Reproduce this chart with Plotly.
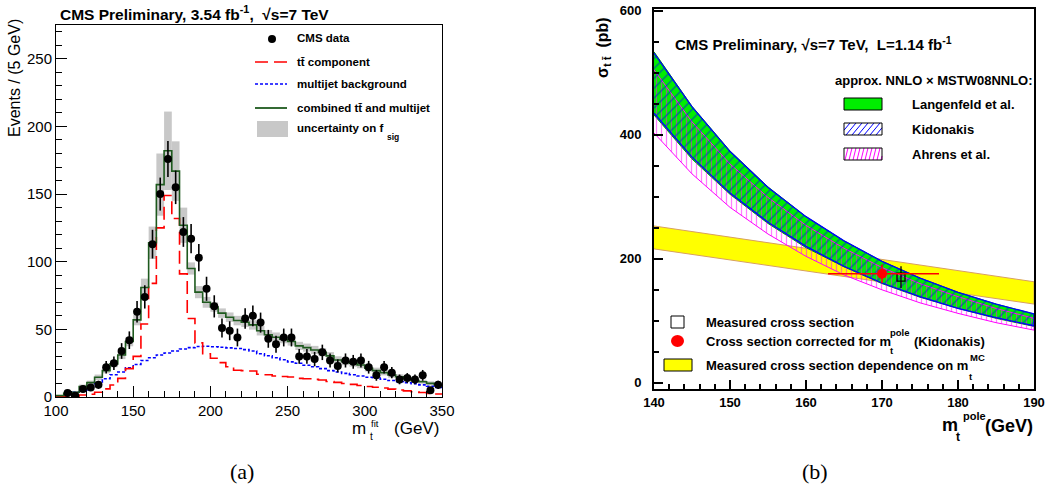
import plotly.graph_objects as go

W, H = 1046, 495
FONT = "Liberation Sans, Arial, Helvetica, sans-serif"


def X(px):
    return px / W


def Y(py):
    return 1 - py / H


# ---------------- Panel (a): m_t^fit distribution ----------------
bin_centers = [102.5, 107.5, 112.5, 117.5, 122.5, 127.5, 132.5, 137.5, 142.5, 147.5,
               152.5, 157.5, 162.5, 167.5, 172.5, 177.5, 182.5, 187.5, 192.5, 197.5,
               202.5, 207.5, 212.5, 217.5, 222.5, 227.5, 232.5, 237.5, 242.5, 247.5,
               252.5, 257.5, 262.5, 267.5, 272.5, 277.5, 282.5, 287.5, 292.5, 297.5,
               302.5, 307.5, 312.5, 317.5, 322.5, 327.5, 332.5, 337.5, 342.5, 347.5]
bin_width = 5

data_counts = [None, 3, 1, 6, 7, 9, 22, 25, 34, 42,
               63, 74, 113, 150, 176, 155, 122, 117, 103, 80,
               67, 51, 49, 44, 58, 60, 55, 43, 39, 44,
               44, 30, 30, 28, 33, 27, 23, 27, 26, 27,
               22, 16, 22, 18, 13, 14, 13, 16, 5, 9]
data_errors = [None, 1.7, 1.0, 2.4, 2.6, 3.0, 4.7, 5.0, 5.8, 6.5,
               7.9, 8.6, 10.6, 12.2, 13.3, 12.4, 11.0, 10.8, 10.1, 8.9,
               8.2, 7.1, 7.0, 6.6, 7.6, 7.7, 7.4, 6.6, 6.2, 6.6,
               6.6, 5.5, 5.5, 5.3, 5.7, 5.2, 4.8, 5.2, 5.1, 5.2,
               4.7, 4.0, 4.7, 4.2, 3.6, 3.7, 3.6, 4.0, 2.2, 3.0]

ttbar_component = [0.2, 0.4, 0.8, 1.5, 2.0, 3.5, 6.0, 8.9, 13.8, 21.0,
                   30.0, 54.0, 84.0, 125.0, 149.0, 132.0, 91.0, 58.0, 40.0, 32.0,
                   28.6, 25.4, 22.4, 19.8, 19.5, 19.2, 16.8, 16.5, 15.5, 15.2,
                   14.8, 13.8, 13.5, 13.0, 12.6, 11.5, 10.8, 10.0, 9.3, 8.5,
                   7.8, 7.2, 6.6, 5.8, 5.2, 4.5, 3.9, 3.3, 2.7, 2.2]

multijet_bkg = [0.8, 2.0, 3.5, 5.0, 8.0, 11.0, 13.5, 16.5, 18.5, 21.5,
                24.0, 27.0, 29.0, 31.0, 32.5, 34.0, 35.5, 36.5, 37.3, 37.5,
                37.2, 36.8, 36.3, 35.8, 35.0, 34.0, 32.0, 30.5, 29.0, 27.5,
                26.0, 25.0, 23.5, 22.4, 21.0, 19.5, 18.5, 17.5, 16.5, 15.5,
                14.6, 14.0, 13.1, 12.2, 11.3, 10.5, 9.8, 9.0, 8.0, 7.0]

combined = [1.0, 2.7, 3.5, 7.7, 10.6, 14.6, 19.5, 24.5, 31.0, 41.0,
            57.0, 81.0, 114.0, 157.0, 182.0, 167.0, 127.0, 95.0, 77.5, 70.0,
            66.5, 62.0, 59.0, 56.5, 55.3, 53.3, 49.0, 46.0, 44.2, 42.7,
            41.0, 37.8, 36.5, 34.8, 33.1, 30.4, 27.4, 26.1, 24.9, 23.7,
            21.2, 19.5, 18.0, 16.3, 15.0, 13.8, 12.1, 11.3, 10.1, 8.9]

fsig_unc = [0.5, 1.0, 1.0, 1.5, 1.5, 2.0, 2.0, 2.5, 3.0, 3.5,
            4.0, 6.5, 12.0, 23.0, 29.0, 22.0, 13.0, 4.5, 4.5, 4.0,
            3.5, 3.5, 3.5, 3.5, 3.5, 3.5, 3.5, 3.5, 3.5, 3.0,
            3.0, 3.0, 3.0, 3.0, 3.0, 2.8, 2.7, 2.6, 2.5, 2.5,
            2.3, 2.2, 2.0, 2.0, 1.8, 1.7, 1.6, 1.5, 1.5, 1.4]

# ---------------- Panel (b): cross section vs m_t^pole ----------------
mass_pole = [140, 145, 150, 155, 160, 165, 170, 175, 180, 185, 190]
langenfeld_hi = [534, 446, 374, 316, 268, 229, 196, 169, 146, 127, 111]
langenfeld_lo = [432, 361, 304, 257, 218, 187, 160, 138, 120, 104, 91]
kidonakis_hi = [532, 445, 373, 315, 268, 229, 196, 169, 146, 127, 111]
kidonakis_lo = [435, 364, 306, 259, 220, 188, 161, 139, 120, 105, 92]
ahrens_hi = [505, 421, 353, 299, 254, 217, 186, 160, 139, 120, 104]
ahrens_lo = [403, 337, 283, 240, 204, 174, 150, 129, 112, 97, 85]

mass_mc = [140, 165, 190]
meas_dep_hi = [253, 208, 163]
meas_dep_lo = [216, 171, 127]

meas_mass = [172.5]
meas_xsec = [170.5]
meas_err = [17.5]

corr_mass = [170.0]
corr_mass_err_plus = [7.5]
corr_mass_err_minus = [7.1]
corr_xsec = [176.0]
corr_xsec_err = [15.0]

fig = go.Figure()

# ---- panel (a) traces
edges = [c - bin_width / 2 for c in bin_centers] + [bin_centers[-1] + bin_width / 2]


def step_y(vals):
    return list(vals) + [vals[-1]]


fig.add_trace(go.Bar(
    x=bin_centers,
    y=[2 * u for u in fsig_unc],
    base=[c - u for c, u in zip(combined, fsig_unc)],
    width=bin_width,
    marker=dict(color="#c8c8c8", line=dict(width=0)),
    xaxis="x", yaxis="y", showlegend=False, hoverinfo="skip"))

fig.add_trace(go.Scatter(
    x=edges, y=step_y(multijet_bkg), mode="lines", line_shape="hv",
    line=dict(color="#0000ff", width=1.6, dash="3px,2px"),
    xaxis="x", yaxis="y", showlegend=False))

fig.add_trace(go.Scatter(
    x=edges, y=step_y(ttbar_component), mode="lines", line_shape="hv",
    line=dict(color="#ff0000", width=1.6, dash="13px,6px"),
    xaxis="x", yaxis="y", showlegend=False))

fig.add_trace(go.Scatter(
    x=edges, y=step_y(combined), mode="lines", line_shape="hv",
    line=dict(color="#1e5a1e", width=1.6),
    xaxis="x", yaxis="y", showlegend=False))

fig.add_trace(go.Scatter(
    x=bin_centers, y=data_counts, mode="markers",
    marker=dict(color="black", size=8, symbol="circle"),
    error_y=dict(type="data", array=data_errors, color="black", thickness=1.6, width=0),
    xaxis="x", yaxis="y", showlegend=False))

# ---- panel (b) traces
fig.add_trace(go.Scatter(
    x=mass_mc + mass_mc[::-1], y=meas_dep_hi + meas_dep_lo[::-1],
    fill="toself", fillcolor="#ffff00", mode="lines",
    line=dict(color="#d8a060", width=1),
    xaxis="x2", yaxis="y2", showlegend=False))

fig.add_trace(go.Scatter(
    x=mass_pole + mass_pole[::-1], y=langenfeld_hi + langenfeld_lo[::-1],
    fill="toself", fillcolor="#00ee00", mode="lines",
    line=dict(color="#009900", width=1),
    xaxis="x2", yaxis="y2", showlegend=False))

fig.add_trace(go.Scatter(
    x=mass_pole + mass_pole[::-1], y=ahrens_hi + ahrens_lo[::-1],
    fill="toself", fillcolor="rgba(0,0,0,0)", mode="lines",
    fillpattern=dict(shape="|", fgcolor="#ff00ff", bgcolor="rgba(0,0,0,0)",
                     size=5, solidity=0.25),
    line=dict(color="#ff00ff", width=1),
    xaxis="x2", yaxis="y2", showlegend=False))

fig.add_trace(go.Scatter(
    x=mass_pole + mass_pole[::-1], y=kidonakis_hi + kidonakis_lo[::-1],
    fill="toself", fillcolor="rgba(0,0,0,0)", mode="lines",
    fillpattern=dict(shape="/", fgcolor="#0000ff", bgcolor="rgba(0,0,0,0)",
                     size=7, solidity=0.22),
    line=dict(color="#0000ff", width=1.3),
    xaxis="x2", yaxis="y2", showlegend=False))

fig.add_trace(go.Scatter(
    x=meas_mass, y=meas_xsec, mode="markers",
    marker=dict(symbol="square-open", size=8, color="black", line=dict(width=1.3)),
    error_y=dict(type="data", array=meas_err, color="black", thickness=1.3, width=0),
    xaxis="x2", yaxis="y2", showlegend=False))

fig.add_trace(go.Scatter(
    x=corr_mass, y=corr_xsec, mode="markers",
    marker=dict(symbol="circle", size=10, color="#ff0000"),
    error_x=dict(type="data", symmetric=False, array=corr_mass_err_plus,
                 arrayminus=corr_mass_err_minus, color="#ff0000", thickness=1.5, width=0),
    error_y=dict(type="data", array=corr_xsec_err, color="#ff0000", thickness=1.5, width=0),
    xaxis="x2", yaxis="y2", showlegend=False))

# ---- axes
axis_common = dict(showgrid=False, zeroline=False, showline=True, linecolor="black",
                   mirror=True, ticks="inside", tickcolor="black", automargin=False)

fig.update_layout(
    width=W, height=H, margin=dict(l=0, r=0, t=0, b=0, pad=0, autoexpand=False),
    paper_bgcolor="white", plot_bgcolor="white", showlegend=False,
    barmode="overlay",
    xaxis=dict(domain=[X(56), X(442)], range=[100, 350], tick0=100, dtick=50,
               ticklen=11, tickwidth=1, linewidth=1,
               minor=dict(ticks="inside", ticklen=6, tick0=100, dtick=10, tickcolor="black"),
               tickfont=dict(family=FONT, size=15, color="black"),
               anchor="y", **axis_common),
    yaxis=dict(domain=[Y(397), Y(25)], range=[0, 275], tick0=0, dtick=50,
               ticklen=11, tickwidth=1, linewidth=1,
               minor=dict(ticks="inside", ticklen=6, tick0=0, dtick=10, tickcolor="black"),
               tickfont=dict(family=FONT, size=15, color="black"),
               anchor="x", **axis_common),
    xaxis2=dict(domain=[X(654), X(1034)], range=[140, 190], tick0=140, dtick=10,
                ticklen=9, tickwidth=1.5, linewidth=2,
                minor=dict(ticks="inside", ticklen=5, tick0=140, dtick=2, tickcolor="black"),
                tickfont=dict(family=FONT, size=13, color="black", weight="bold"),
                anchor="y2", **axis_common),
    yaxis2=dict(domain=[Y(389), Y(9)], range=[-10, 603], tick0=0, dtick=200,
                ticklen=9, tickwidth=1.5, linewidth=2,
                minor=dict(ticks="inside", ticklen=5, tick0=0, dtick=50, tickcolor="black"),
                tickfont=dict(family=FONT, size=13, color="black", weight="bold"),
                ticklabelstandoff=8,
                anchor="x2", **axis_common),
)

annotations = []
shapes = []


def text(px, py, s, size, bold=False, xanchor="left", angle=0, family=FONT):
    annotations.append(dict(
        x=X(px), y=Y(py), xref="paper", yref="paper", text=s, showarrow=False,
        xanchor=xanchor, yanchor="middle", textangle=angle,
        font=dict(family=family, size=size, color="black",
                  weight="bold" if bold else "normal")))


# ---- panel (a) texts
text(58, 13, "CMS Preliminary, 3.54 fb<sup>-1</sup>,  √s=7 TeV", 15.5, bold=True)
text(14, 78, "Events / (5 GeV)", 16, angle=-90, xanchor="center")
text(441, 428, "(GeV)", 17, xanchor="right")
text(368, 428, "m", 17, xanchor="right")
text(369, 423, "fit", 9.5)
text(368, 436, "t", 10)

leg_x = 295
text(leg_x, 38, "CMS data", 11.5, bold=True)
text(leg_x, 62, "tt\u0304 component", 11.5, bold=True)
text(leg_x, 84, "multijet background", 11.5, bold=True)
text(leg_x, 108, "combined tt\u0304 and multijet", 11.5, bold=True)
text(leg_x, 128, "uncertainty on f", 11.5, bold=True)
text(385, 137, "sig", 8.5, bold=True)

shapes.append(dict(type="circle", xref="paper", yref="paper",
                   x0=X(268), x1=X(276), y0=Y(35), y1=Y(43),
                   fillcolor="black", line=dict(color="black", width=0)))
shapes.append(dict(type="line", xref="paper", yref="paper",
                   x0=X(255), x1=X(287), y0=Y(62), y1=Y(62),
                   line=dict(color="#ff0000", width=1.6, dash="13px,6px")))
shapes.append(dict(type="line", xref="paper", yref="paper",
                   x0=X(255), x1=X(287), y0=Y(84), y1=Y(84),
                   line=dict(color="#0000ff", width=1.6, dash="3px,2px")))
shapes.append(dict(type="line", xref="paper", yref="paper",
                   x0=X(255), x1=X(287), y0=Y(108), y1=Y(108),
                   line=dict(color="#1e5a1e", width=1.8)))
shapes.append(dict(type="rect", xref="paper", yref="paper",
                   x0=X(257), x1=X(288), y0=Y(137), y1=Y(121),
                   fillcolor="#c8c8c8", line=dict(width=0)))

# ---- panel (b) texts
text(673, 43, "CMS Preliminary, √s=7 TeV,  L=1.14 fb<sup>-1</sup>", 15, bold=True)
text(604, 48, "σ<sub>t t\u0304</sub>  (pb)", 16, bold=True, angle=-90, xanchor="center")
text(1035, 426, "(GeV)", 18, bold=True, xanchor="right")
text(960, 425, "m", 18, bold=True, xanchor="right")
text(961, 416, "pole", 11, bold=True)
text(954, 437, "t", 12, bold=True)

text(833, 80, "approx. NNLO × MSTW08NNLO:", 13, bold=True)
text(910, 104, "Langenfeld et al.", 13, bold=True)
text(910, 129, "Kidonakis", 13, bold=True)
text(910, 154, "Ahrens et al.", 13, bold=True)

text(704, 322, "Measured cross section", 13, bold=True)
text(704, 341, "Cross section corrected for m", 13, bold=True)
text(888, 332, "pole", 9.5, bold=True)
text(888, 350, "t", 9.5, bold=True)
text(912, 341, "(Kidonakis)", 13, bold=True)
text(704, 365, "Measured cross section dependence on m", 13, bold=True)
text(968, 357, "MC", 9.5, bold=True)
text(967, 376, "t", 9.5, bold=True)

# legend boxes (b)
shapes.append(dict(type="rect", xref="paper", yref="paper",
                   x0=X(844), x1=X(882), y0=Y(110), y1=Y(98),
                   fillcolor="#00ee00", line=dict(color="black", width=1)))


def hatch_box(x0, y0, x1, y1, step, slant, color):
    # decorative hatch lines inside a legend box (pixel coords, y down)
    h = y1 - y0
    c = x0 - slant
    while c < x1:
        xa, ya = c, y1
        xb, yb = c + slant, y0
        if xa < x0:
            ya = y1 - (x0 - xa) * h / slant
            xa = x0
        if xb > x1:
            yb = y0 + (xb - x1) * h / slant
            xb = x1
        if xb > xa:
            shapes.append(dict(type="line", xref="paper", yref="paper",
                               x0=X(xa), y0=Y(ya), x1=X(xb), y1=Y(yb),
                               line=dict(color=color, width=1)))
        c += step


hatch_box(844, 123, 882, 135, 6, 10, "#0000ff")
shapes.append(dict(type="rect", xref="paper", yref="paper",
                   x0=X(844), x1=X(882), y0=Y(135), y1=Y(123),
                   line=dict(color="black", width=1)))
hatch_box(844, 148, 882, 160, 4, 3, "#ff00ff")
shapes.append(dict(type="rect", xref="paper", yref="paper",
                   x0=X(844), x1=X(882), y0=Y(160), y1=Y(148),
                   line=dict(color="black", width=1)))

shapes.append(dict(type="rect", xref="paper", yref="paper",
                   x0=X(671), x1=X(684), y0=Y(328), y1=Y(316),
                   line=dict(color="black", width=1)))
shapes.append(dict(type="circle", xref="paper", yref="paper",
                   x0=X(671), x1=X(684), y0=Y(347), y1=Y(335),
                   fillcolor="#ff0000", line=dict(color="#ff0000", width=0)))
shapes.append(dict(type="rect", xref="paper", yref="paper",
                   x0=X(664), x1=X(692), y0=Y(371), y1=Y(359),
                   fillcolor="#ffff00", line=dict(color="black", width=1)))

# captions
text(242, 471, "(a)", 22, xanchor="center", family="Liberation Serif, Times New Roman, serif")
text(815, 471, "(b)", 22, xanchor="center", family="Liberation Serif, Times New Roman, serif")

fig.update_layout(annotations=annotations, shapes=shapes)
fig.write_html("out.html")
